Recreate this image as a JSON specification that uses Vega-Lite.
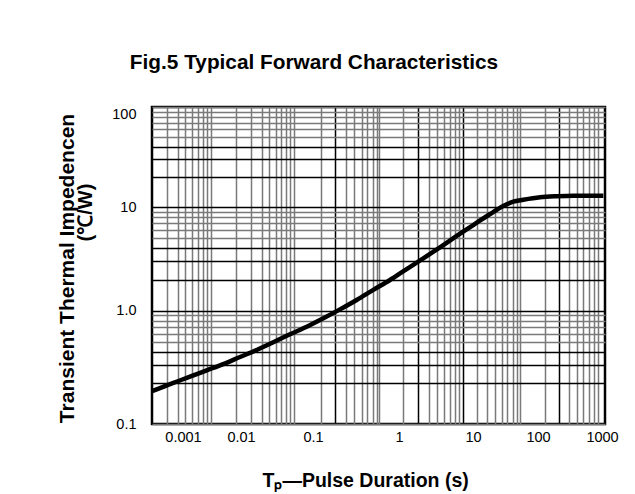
{
  "$schema": "https://vega.github.io/schema/vega-lite/v6.json",
  "width": 453,
  "height": 317,
  "autosize": {"type": "none"},
  "padding": {"left": 152, "top": 107, "right": 30, "bottom": 70},
  "background": "white",
  "config": {"view": {"stroke": "black", "strokeWidth": 2.5}, "font": "Liberation Sans"},
  "title": {"text": "Fig.5 Typical Forward Characteristics", "fontSize": 20.8, "fontWeight": "bold", "font": "Liberation Sans", "color": "black", "anchor": "middle", "frame": "group", "dx": -64.5, "offset": 14, "baseline": "alphabetic"},
  "data": {"values": [
    {"t": 0.00029, "z": 0.174},
    {"t": 0.000681, "z": 0.201},
    {"t": 0.00132, "z": 0.23},
    {"t": 0.00256, "z": 0.265},
    {"t": 0.00495, "z": 0.305},
    {"t": 0.00961, "z": 0.357},
    {"t": 0.0165, "z": 0.417},
    {"t": 0.0281, "z": 0.495},
    {"t": 0.0479, "z": 0.591},
    {"t": 0.0818, "z": 0.7},
    {"t": 0.132, "z": 0.844},
    {"t": 0.206, "z": 1.03},
    {"t": 0.322, "z": 1.27},
    {"t": 0.503, "z": 1.59},
    {"t": 0.786, "z": 1.98},
    {"t": 1.27, "z": 2.53},
    {"t": 2.13, "z": 3.21},
    {"t": 3.58, "z": 4.1},
    {"t": 6.02, "z": 5.28},
    {"t": 10.1, "z": 6.74},
    {"t": 18.3, "z": 8.61},
    {"t": 29.2, "z": 10.3},
    {"t": 41.7, "z": 11.4},
    {"t": 59.4, "z": 11.9},
    {"t": 108, "z": 12.6},
    {"t": 196, "z": 12.9},
    {"t": 356, "z": 13.05},
    {"t": 1048, "z": 13.05}
  ]},
  "layer": [
    {
      "mark": {"type": "line", "color": "black", "strokeWidth": 4.5, "interpolate": "monotone", "clip": true},
      "encoding": {
        "x": {
          "field": "t", "type": "quantitative",
          "scale": {"type": "log", "domain": [0.00029, 0.001, 0.01, 0.1, 1, 10, 100, 1000, 1110], "range": [0, 31, 89, 161, 247, 321, 386, 450, 453], "nice": false},
          "axis": {
            "values": [0.001, 0.01, 0.1, 1, 10, 100, 1000, 0.000524, 0.00081, 0.00108, 0.00145, 0.00184, 0.00224, 0.00262, 0.00304, 0.0082, 0.0136, 0.0194, 0.0247, 0.0303, 0.0359, 0.0422, 0.0479, 0.0545, 0.123, 0.18, 0.242, 0.3, 0.368, 0.428, 0.495, 0.55, 0.585, 1.14, 1.82, 2.57, 3.29, 4.06, 4.89, 5.71, 6.53, 7.26, 11.4, 16.2, 21.8, 27.6, 33.7, 40.8, 47, 52.9, 129, 215, 308, 402, 510, 633, 750, 876],
            "labelExpr": "datum.value == 0.001 ? '0.001' : datum.value == 0.01 ? '0.01' : datum.value == 0.1 ? '0.1' : datum.value == 1 ? '1' : datum.value == 10 ? '10' : datum.value == 100 ? '100' : datum.value == 1000 ? '1000' : ''",
            "labelFont": "Liberation Sans", "labelFontSize": 14.5, "labelColor": "black",
            "labelPadding": 6, "labelOverlap": false, "labelFlush": false, "labelBound": false,
            "ticks": false, "domain": false,
            "grid": true, "gridWidth": 1.5,
            "gridOpacity": {"condition": {"test": "indexof([0.001, 0.01, 0.1, 1, 10, 100, 1000], datum.value) >= 0", "value": 0}, "value": 1},
            "gridColor": {"condition": {"test": "indexof([0.18, 1.82, 7.26, 215], datum.value) >= 0", "value": "#000000"}, "value": "#7a7a7a"},
            "title": "Tₚ—Pulse Duration (s)", "titleFont": "Liberation Sans", "titleFontSize": 19.5, "titleFontWeight": "bold", "titleColor": "black",
            "titleAlign": "left", "titleAnchor": "start", "titleX": 110, "titleY": 62, "titleBaseline": "alphabetic"
          }
        },
        "y": {
          "field": "z", "type": "quantitative",
          "scale": {"type": "log", "domain": [0.1, 0.2, 1, 10, 100], "range": [317, 276, 203.7, 100.3, 0], "nice": false},
          "axis": {
            "values": [0.1, 0.2, 0.3, 0.4, 0.5, 0.6, 0.7, 0.8, 0.9, 1, 2, 3, 4, 5, 6, 7, 8, 9, 10, 20, 30, 40, 50, 60, 70, 80, 90, 100],
            "labelExpr": "datum.value == 100 ? '100' : datum.value == 10 ? '10' : datum.value == 1 ? '1.0' : datum.value == 0.1 ? '0.1' : ''",
            "labelFont": "Liberation Sans", "labelFontSize": 14.5, "labelColor": "black",
            "labelPadding": 16, "labelOverlap": false, "labelFlush": false, "labelBound": false,
            "labelBaseline": {"condition": {"test": "datum.value == 100", "value": "top"}, "value": "middle"},
            "ticks": false, "domain": false,
            "grid": true, "gridWidth": 1.5,
            "gridColor": {"condition": {"test": "indexof([0.2, 0.3, 0.4, 1, 2, 3, 4, 10, 20, 30, 40], datum.value) >= 0", "value": "#000000"}, "value": "#7a7a7a"},
            "title": "Transient Thermal Impedencen", "titleFont": "Liberation Sans", "titleFontSize": 21, "titleFontWeight": "bold", "titleColor": "black",
            "titleAlign": "center", "titleX": -85, "titleY": 161, "titleBaseline": "middle", "titleAngle": 270
          }
        }
      }
    },
    {
      "mark": {"type": "line", "opacity": 0},
      "encoding": {
        "x": {"field": "t", "type": "quantitative", "axis": null},
        "y": {
          "field": "z", "type": "quantitative",
          "scale": {"type": "log", "domain": [0.1, 0.2, 1, 10, 100], "range": [317, 276, 203.7, 100.3, 0], "nice": false},
          "axis": {
            "orient": "left", "labels": false, "ticks": false, "domain": false, "grid": false,
            "title": "(℃/W)", "titleFont": "Liberation Sans", "titleFontSize": 20, "titleFontWeight": "bold", "titleColor": "black",
            "titleAlign": "center", "titleX": -67, "titleY": 105, "titleBaseline": "middle", "titleAngle": 270
          }
        }
      }
    }
  ],
  "resolve": {"scale": {"y": "independent"}, "axis": {"x": "independent", "y": "independent"}}
}
